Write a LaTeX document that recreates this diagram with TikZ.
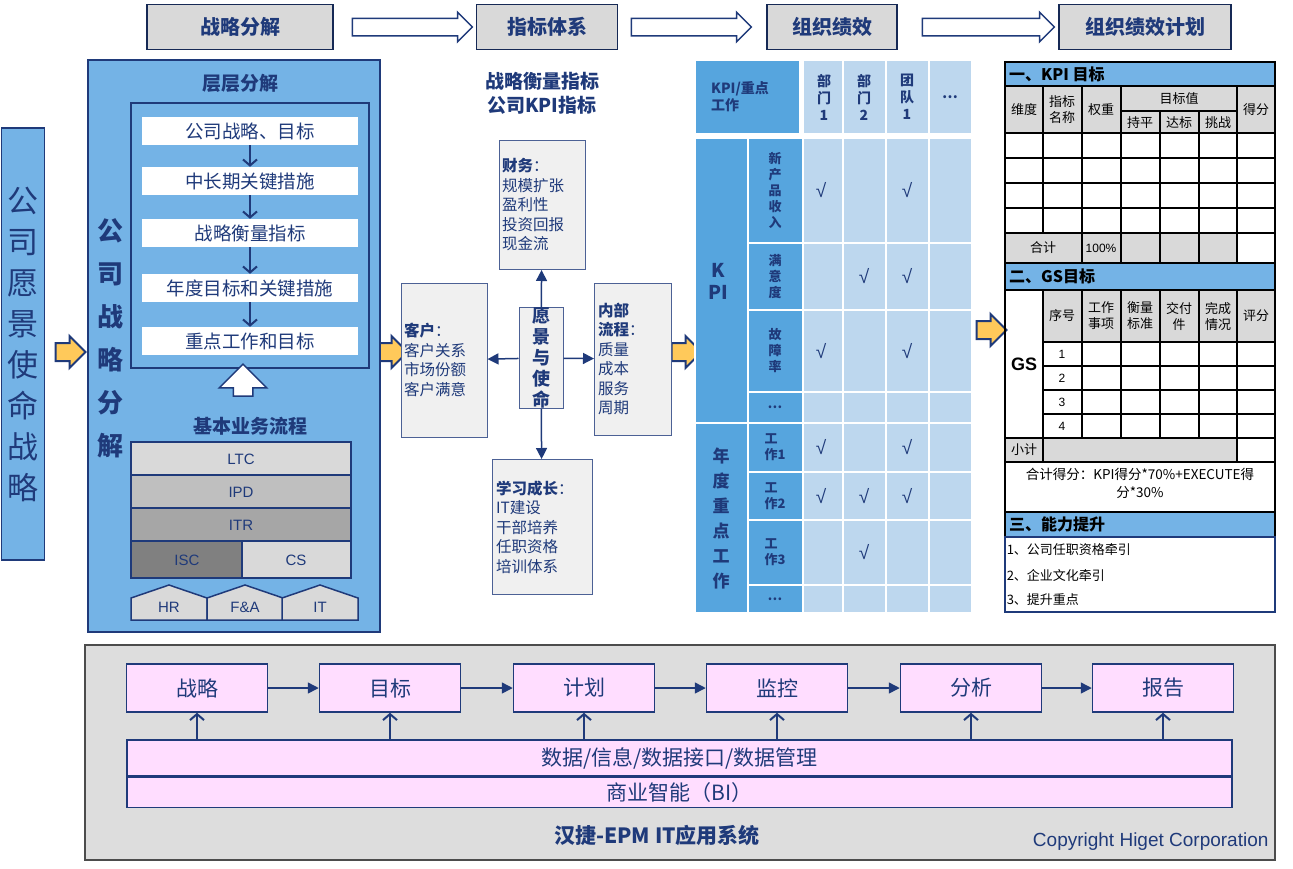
\documentclass[tikz,border=0pt]{standalone}
\usepackage{fontspec}
\setmainfont{Noto Sans CJK SC}
\newfontfamily\latinfont{Liberation Sans}
\usetikzlibrary{positioning,shapes.arrows,arrows.meta}
\definecolor{navy}{HTML}{1F3A7A}
\definecolor{panelblue}{HTML}{74B3E6}
\definecolor{midblue}{HTML}{56A5DE}
\definecolor{paleblue}{HTML}{BDD7EE}
\definecolor{headgray}{HTML}{D9D9D9}
\definecolor{boxgray}{HTML}{F0F0F0}
\definecolor{pinkbox}{HTML}{FFDDFF}
\definecolor{orangearrow}{HTML}{FFC95A}
\newcommand{\shaft}[1]{\rule{0pt}{#1pt}}
\tikzset{
  headbox/.style={draw=navy!70!black,fill=headgray,line width=1.2pt,inner sep=0pt,font=\fontsize{20}{24}\selectfont\bfseries,text=navy},
  hollow/.style={single arrow,draw=navy,fill=white,line width=1.5pt,minimum height=120,single arrow head extend=6,inner sep=0pt},
  golden/.style={single arrow,draw=navy,fill=orangearrow,line width=2pt,minimum height=30,single arrow head extend=7,inner sep=0pt},
  stepbox/.style={fill=white,minimum width=216,minimum height=28,inner sep=0pt,font=\fontsize{18.5}{22}\selectfont,text=navy},
  kpibox/.style={draw=navy!80,fill=boxgray,line width=1pt,inner sep=0pt,text=navy},
  flow/.style={-{Triangle[length=11,width=11]},navy,line width=1.5pt},
  pink/.style={draw=navy,fill=pinkbox,line width=1.5pt,inner sep=0pt,text=navy,font=\fontsize{21}{24}\selectfont},
}
\begin{document}
\begin{tikzpicture}[x=1pt,y=-1pt]
\useasboundingbox (0,0) rectangle (1293,868);
% top flow
\node[headbox,minimum width=186,minimum height=45] (hd1) at (240,27) {战略分解};
\node[headbox,minimum width=141,minimum height=45] (hd2) at (547,27) {指标体系};
\node[headbox,minimum width=130,minimum height=45] (hd3) at (832,27) {组织绩效};
\node[headbox,minimum width=172,minimum height=45] (hd4) at (1145,27) {组织绩效计划};
\node[hollow] (ha1) at (408,27) {\shaft{16}};
\node[hollow] (ha2) at (687,27) {\shaft{16}};
\node[hollow,minimum height=132] (ha3) at (984,27) {\shaft{16}};
% left column
\node[draw=navy,fill=panelblue,line width=1.2pt,minimum width=43,minimum height=432,inner sep=0pt,text=navy,font=\fontsize{31}{41}\selectfont,align=center] (vision) at (23,344) {公\\司\\愿\\景\\使\\命\\战\\略};
\node[golden] (ga1) at (66,352) {\shaft{16}};
\node[golden] (ga2) at (388,352) {\shaft{16}};
\node[golden] (ga3) at (682,352) {\shaft{16}};
\node[golden] (ga4) at (987,330) {\shaft{16}};
% strategy panel
\draw[navy,fill=panelblue,line width=1.5pt] (88,60) rectangle (380,632);
\node[text=navy,font=\fontsize{19}{22}\selectfont\bfseries] (layers) at (240,83) {层层分解};
\draw[navy,line width=1.5pt] (131,103) rectangle (369,368);
\node[text=navy,font=\fontsize{26}{43}\selectfont\bfseries,align=center] (split) at (110,338) {公\\司\\战\\略\\分\\解};
\node[stepbox] (s1) at (250,131) {公司战略、目标};
\node[stepbox] (s2) at (250,181) {中长期关键措施};
\node[stepbox] (s3) at (250,233) {战略衡量指标};
\node[stepbox] (s4) at (250,288) {年度目标和关键措施};
\node[stepbox] (s5) at (250,341) {重点工作和目标};
\foreach \a/\b in {s1/s2,s2/s3,s3/s4,s4/s5}
  \draw[-{Straight Barb[length=6,width=14]},navy,line width=2pt] (\a) -- (\b);
\node[single arrow,shape border rotate=90,draw=navy,fill=white,line width=1.5pt,minimum height=32,single arrow head extend=14,inner sep=0pt] (up) at (243,385) {\phantom{\rule{18pt}{18pt}}};
\node[text=navy,font=\fontsize{19}{22}\selectfont\bfseries] (base) at (250,426) {基本业务流程};
\begin{scope}[draw=navy,line width=1.5pt,font=\latinfont\fontsize{15}{18}\selectfont,text=navy]
\filldraw[fill=headgray] (131,442) rectangle (351,475);
\filldraw[fill=gray!50] (131,475) rectangle (351,508);
\filldraw[fill=gray!70] (131,508) rectangle (351,541);
\filldraw[fill=gray] (131,541) rectangle (242,578);
\filldraw[fill=headgray] (242,541) rectangle (351,578);
\node (ltc) at (241,459) {LTC};
\node (ipd) at (241,492) {IPD};
\node (itr) at (241,525) {ITR};
\node (isc) at (187,560) {ISC};
\node (cs) at (296,560) {CS};
\foreach \x/\t [count=\i] in {131/HR,207/F\&A,282/IT}{
  \filldraw[fill=headgray] (\x,620) -- (\x,598) -- (\x+38,585) -- (\x+76,598) -- (\x+76,620) -- cycle;
  \node (sup\i) at (\x+38,607) {\t};
}
\end{scope}
% balanced scorecard
\node[text=navy,font=\fontsize{19}{24}\selectfont\bfseries,align=center] (bsc) at (542,93) {战略衡量指标\\公司KPI指标};
\begin{scope}[font=\fontsize{15.5}{19.5}\selectfont]
\node[kpibox,minimum width=86,minimum height=129,align=left,text width=80] (fin) at (542,205) {\textbf{财务}：\\规模扩张\\盈利性\\投资回报\\现金流};
\node[kpibox,minimum width=86,minimum height=154,align=left,text width=80] (cust) at (444,360) {\textbf{客户}：\\客户关系\\市场份额\\客户满意};
\node[kpibox,minimum width=44,minimum height=92,align=center,font=\fontsize{18}{21}\selectfont\bfseries] (mission) at (541,358) {愿\\景\\与\\使\\命};
\node[kpibox,minimum width=77,minimum height=152,align=left,text width=70] (proc) at (633,359) {\textbf{内部}\\\textbf{流程}：\\质量\\成本\\服务\\周期};
\node[kpibox,minimum width=100,minimum height=135,align=left,text width=92] (learn) at (542,527) {\textbf{学习成长}：\\ IT建设\\干部培养\\任职资格\\培训体系};
\end{scope}
\foreach \t in {fin,cust,proc,learn} \draw[flow] (mission) -- (\t);
% organisation matrix
\begin{scope}[draw=white,line width=2.5pt,text=navy,font=\fontsize{14}{17}\selectfont\bfseries]
\filldraw[fill=midblue] (695,60) rectangle (800,134);
\node[align=left] (corner) at (740,97) {KPI/重点\\工作};
\foreach \x/\t [count=\i] in {803/部\\门\\1,843/部\\门\\2,886/团\\队\\1,929/\dots}{
  \filldraw[fill=paleblue] (\x,60) rectangle (\x+43,134);
  \node[align=center] (col\i) at (\x+21,97) {\t};
}
\filldraw[fill=midblue] (695,138) rectangle (748,423);
\node[align=center,font=\fontsize{19}{22}\selectfont\bfseries] (kpi) at (718,281) {K\\PI};
\filldraw[fill=midblue] (695,423) rectangle (748,613);
\node[align=center,font=\fontsize{17}{25}\selectfont\bfseries] (yearly) at (721,518) {年\\度\\重\\点\\工\\作};
\foreach \ya/\yb/\t/\c [count=\r] in {138/243/新\\产\\品\\收\\入/{1,3},243/310/满\\意\\度/{2,3},310/392/故\\障\\率/{1,3},392/423/\dots/{},423/472/工\\作1/{1,3},472/520/工\\作2/{1,2,3},520/585/工\\作3/{2},585/613/\dots/{}}{
  \filldraw[fill=midblue] (748,\ya) rectangle (803,\yb);
  \node[align=left,font=\fontsize{13}{16}\selectfont\bfseries] (row\r) at (775,{(\ya+\yb)/2}) {\t};
  \foreach \x in {803,843,886,929}
    \filldraw[fill=paleblue] (\x,\ya) rectangle (\x+43,\yb);
  \foreach \k in \c
    \node[font=\latinfont\fontsize{19}{20}\selectfont\mdseries] at ({803+43*(\k-1)+18},{(\ya+\yb)/2}) {√};
}
\end{scope}
% performance plan table
\begin{scope}[line width=1.5pt,font=\fontsize{13}{16}\selectfont]
\def\secbar#1#2#3{\filldraw[fill=panelblue,draw=black] (1005,#1) rectangle (1275,#2);
  \node[anchor=west,font=\fontsize{16}{19}\selectfont\bfseries] at (1005,{(#1+#2)/2}) {#3};}
\secbar{62}{86}{一、KPI 目标}
\fill[headgray] (1005,86) rectangle (1275,133);
\fill[headgray] (1005,233) rectangle (1237,263);
\draw (1005,86) rectangle (1275,263);
\foreach \y in {133,158,183,208,233} \draw (1005,\y) -- (1275,\y);
\draw (1121,111) -- (1237,111);
\foreach \x in {1043,1082,1121,1237} \draw (\x,86) -- (\x,233);
\foreach \x in {1160,1199} \draw (\x,111) -- (\x,233);
\foreach \x in {1082,1121,1160,1199,1237} \draw (\x,233) -- (\x,263);
\foreach \x/\t in {1024/维度,1062/指标\\名称,1101/权重,1256/得分}
  \node[align=center] at (\x,110) {\t};
\node at (1179,99) {目标值};
\foreach \x/\t in {1140/持平,1179/达标,1218/挑战} \node at (\x,123) {\t};
\node at (1043,248) {合计};
\node[font=\latinfont\fontsize{12}{14}\selectfont] at (1101,248) {100\%};
\secbar{263}{290}{二、GS目标}
\fill[headgray] (1043,290) rectangle (1275,342);
\fill[headgray] (1005,438) rectangle (1237,462);
\draw (1005,290) rectangle (1275,512);
\foreach \y in {342,366,390,414} \draw (1043,\y) -- (1275,\y);
\draw (1005,438) -- (1275,438);
\draw (1005,462) -- (1275,462);
\foreach \x in {1082,1121,1160,1199} \draw (\x,290) -- (\x,438);
\draw (1043,290) -- (1043,462);
\draw (1237,290) -- (1237,462);
\node[font=\latinfont\fontsize{18}{20}\selectfont\bfseries] at (1024,364) {GS};
\foreach \x/\t in {1062/序号,1101/工作\\事项,1140/衡量\\标准,1179/交付\\件,1218/完成\\情况,1256/评分}
  \node[align=center] at (\x,316) {\t};
\foreach \n [count=\i] in {1,2,3,4} \node[font=\latinfont\fontsize{12}{14}\selectfont] at (1062,{342+24*\i-12}) {\n};
\node at (1024,450) {小计};
\node[align=center,font=\fontsize{13.5}{18}\selectfont] at (1140,483) {合计得分：KPI得分*70\%+EXECUTE得\\分*30\%};
\secbar{512}{537}{三、能力提升}
\draw[draw=navy] (1005,537) rectangle (1275,612);
\foreach \t [count=\i] in {1、公司任职资格牵引,2、企业文化牵引,3、提升重点}
  \node[anchor=west,inner sep=1pt] at (1005,{537+25*\i-12}) {\t};
\end{scope}
% IT system
\draw[draw=black!70,fill=headgray!90!white,line width=1.2pt] (85,645) rectangle (1275,860);
\foreach \x/\t [count=\i] in {197/战略,390/目标,584/计划,777/监控,971/分析,1163/报告}
  \node[pink,minimum width=141,minimum height=48] (it\i) at (\x,688) {\t};
\foreach \i [evaluate=\i as \j using int(\i+1)] in {1,...,5}
  \draw[flow] (it\i) -- (it\j);
\node[pink,minimum width=1105,minimum height=36] (data) at (679.5,758) {数据/信息/数据接口/数据管理};
\node[pink,minimum width=1105,minimum height=30,below=0pt of data] (bi) {商业智能（BI）};
\foreach \i in {1,...,6}
  \draw[-{Straight Barb[length=6,width=14]},navy,line width=2pt] (data.north -| it\i) -- (it\i);
\node[text=navy,font=\fontsize{21}{24}\selectfont\bfseries] (epm) at (657,835) {汉捷-EPM IT应用系统};
\node[anchor=east,text=navy,font=\latinfont\fontsize{19}{20}\selectfont] (copy) at (1272,842) {Copyright Higet Corporation};
\end{tikzpicture}
\end{document}
